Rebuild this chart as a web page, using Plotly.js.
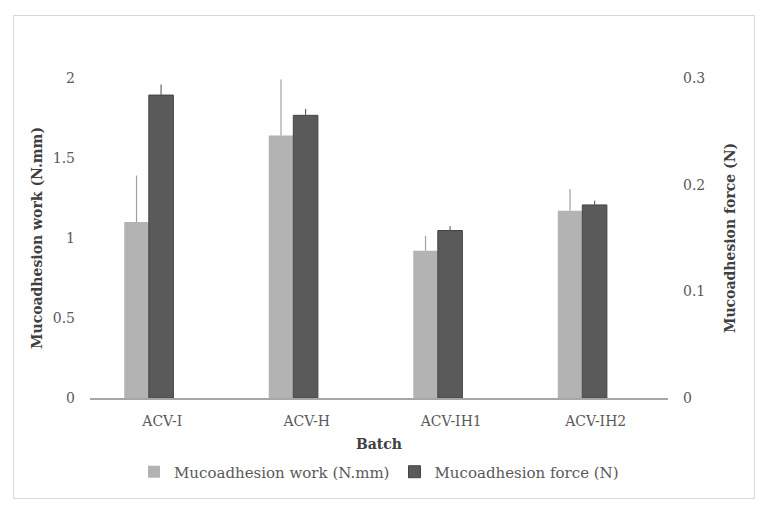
<!DOCTYPE html>
<html>
<head>
<meta charset="utf-8">
<script src="https://cdn.plot.ly/plotly-3.0.1.min.js"></script>
<style>
  body { margin: 0; background: #fff; }
  #frame { position: absolute; left: 13px; top: 15px; width: 740px; height: 482px; border: 1px solid #d9d9d9; }
  #chart { width: 740px; height: 482px; }
</style>
</head>
<body>
<div id="frame"><div id="chart"></div></div>
<script>
var batches = ["ACV-I", "ACV-H", "ACV-IH1", "ACV-IH2"]
var workValues = [1.10, 1.64, 0.92, 1.17]
var workErrors = [0.29, 0.35, 0.094, 0.137]
var forceValues = [0.284, 0.265, 0.157, 0.181]
var forceErrors = [0.010, 0.006, 0.004, 0.004]

var font = "Palatino Linotype, Book Antiqua, Palatino, DejaVu Serif, serif"

// bars sit a little left of the category centre, like the original
var workTrace = {
  x: batches,
  y: workValues,
  type: "bar",
  name: "Mucoadhesion work (N.mm)",
  marker: { color: "#b3b3b3" },
  width: 0.17,
  offset: -0.263,
  error_y: { type: "data", array: workErrors, symmetric: false, arrayminus: [0, 0, 0, 0], color: "#a0a0a0", thickness: 1.2, width: 0 },
}

var forceTrace = {
  x: batches,
  y: forceValues,
  type: "bar",
  name: "Mucoadhesion force (N)",
  yaxis: "y2",
  marker: { color: "#5a5a5a", line: { color: "#444", width: 1 } },
  width: 0.17,
  offset: -0.093,
  error_y: { type: "data", array: forceErrors, symmetric: false, arrayminus: [0, 0, 0, 0], color: "#666", thickness: 1.2, width: 0 },
}

var layout = {
  width: 740,
  height: 482,
  margin: { l: 76, r: 86, t: 62, b: 100 },
  paper_bgcolor: "#fff",
  plot_bgcolor: "#fff",
  font: { family: font, size: 14, color: "#595959" },
  showlegend: true,
  legend: {
    orientation: "h",
    x: 0.5, xanchor: "center",
    yref: "container", y: 0.054, yanchor: "middle",
    font: { size: 15, color: "#595959" },
    itemwidth: 30,
    traceorder: "normal",
  },
  xaxis: {
    showline: true,
    linecolor: "#a6a6a6",
    linewidth: 1.5,
    ticks: "",
    ticklabelstandoff: 9,
    tickfont: { size: 14, color: "#595959" },
    title: { text: "<b>Batch</b>", font: { size: 14, color: "#404040" }, standoff: 12 },
  },
  yaxis: {
    range: [0, 2],
    dtick: 0.5,
    showgrid: false,
    zeroline: false,
    showline: false,
    ticklabelstandoff: 14,
    tickfont: { size: 14, color: "#595959" },
    title: { text: "<b>Mucoadhesion work (N.mm)</b>", font: { size: 14, color: "#404040" }, standoff: 6 },
  },
  yaxis2: {
    overlaying: "y",
    side: "right",
    range: [0, 0.3],
    dtick: 0.1,
    showgrid: false,
    zeroline: false,
    showline: false,
    ticklabelstandoff: 14,
    tickfont: { size: 14, color: "#595959" },
    title: { text: "<b>Mucoadhesion force (N)</b>", font: { size: 14, color: "#404040" }, standoff: 20 },
  },
}

Plotly.newPlot("chart", [workTrace, forceTrace], layout, { displayModeBar: false })
</script>
</body>
</html>
